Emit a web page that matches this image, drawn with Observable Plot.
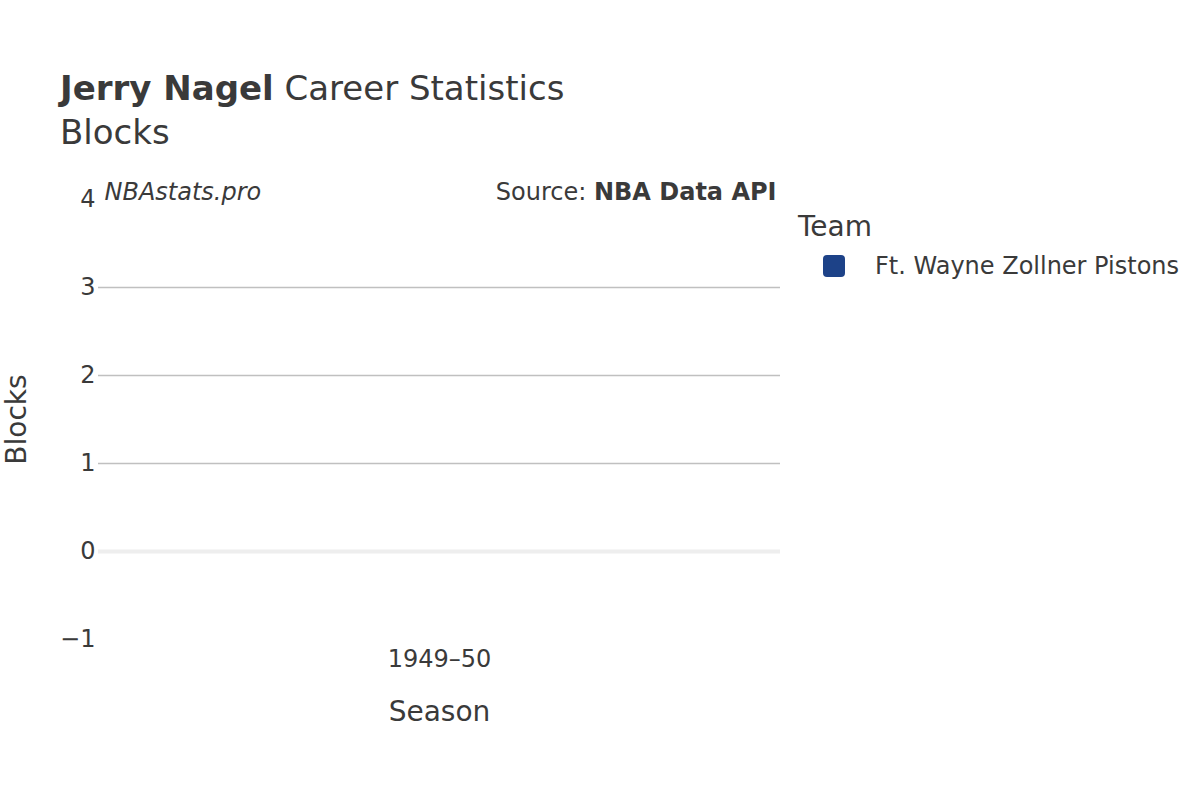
<!DOCTYPE html>
<html>
<head>
<meta charset="utf-8">
<script src="https://cdn.jsdelivr.net/npm/d3@7"></script>
<script src="https://cdn.jsdelivr.net/npm/@observablehq/plot@0.6"></script>
<style>
  html, body { margin: 0; padding: 0; background: #fff; }
  body { font-family: "DejaVu Sans", sans-serif; color: #3a3a3a; }
  #wrap { position: relative; width: 1200px; height: 800px; overflow: hidden; }
  #head { position: relative; height: 165px; }
  .t { position: absolute; left: 60px; white-space: nowrap; font-size: 34px; line-height: 34px; }
  #legend { position: absolute; left: 798px; top: 210px; }
  #legend .lt { font-size: 28px; line-height: 28px; position: absolute; left: 0; top: 3px; white-space: nowrap; }
  #legend .row { position: absolute; left: 25px; top: 45px; white-space: nowrap; }
  #legend .sw { position: absolute; left: 0; top: 0; width: 22px; height: 22px; border-radius: 4px; }
  #legend .lab { position: absolute; left: 52px; top: -1px; font-size: 24px; line-height: 24px; }
</style>
</head>
<body>
<div id="wrap">
  <div id="head">
    <div class="t" style="top:71px"><b>Jerry Nagel</b> Career Statistics</div>
    <div class="t" style="top:115px">Blocks</div>
  </div>
  <div id="chart"></div>
  <div id="legend"></div>
</div>
<script>
// ---- data ----
const seasons = ["1949–50"];
const teams = ["Ft. Wayne Zollner Pistons"];
const blocks = [0];
const teamColors = ["#1d4288"];
const yTicks = [-1, 0, 1, 2, 3, 4];
const gridValues = [1, 2, 3];
const zeroValue = [0];

const rows = seasons.map((s, i) => ({season: s, team: teams[i], blocks: blocks[i]}));
const ink = "#3a3a3a";
const font = "DejaVu Sans, sans-serif";

const chart = Plot.plot({
  width: 1200,
  height: 635,
  marginLeft: 98,
  marginRight: 420,
  marginTop: 34,
  marginBottom: 161,
  style: {fontFamily: font, color: ink, background: "#fff", overflow: "visible"},
  x: {domain: seasons, padding: 0.2, label: null},
  y: {domain: [-1, 4], label: null},
  color: {domain: teams, range: teamColors},
  marks: [
    Plot.ruleY(gridValues, {stroke: "#c0c0c0", strokeWidth: 1.5}),
    Plot.ruleY(zeroValue, {stroke: "#eeeeee", strokeWidth: 4}),
    Plot.barY(rows, {x: "season", y: "blocks", fill: "team"}),
    Plot.axisY({ticks: yTicks, tickSize: 0, tickPadding: 3, tickFormat: d3.format("d"), fontSize: 24, label: null, fill: ink}),
    Plot.axisX({tickSize: 0, tickPadding: 10, fontSize: 24, label: null, fill: ink}),
    Plot.text(["Blocks"], {frameAnchor: "left", dx: -81, rotate: -90, fontSize: 28, fill: ink, textAnchor: "middle"}),
    Plot.text(["Season"], {frameAnchor: "bottom", dy: 73, fontSize: 28, fill: ink, lineAnchor: "middle"}),
    Plot.text(["NBAstats.pro"], {frameAnchor: "top-left", dx: 6, dy: -7, fontSize: 24, fontStyle: "italic", fill: ink, textAnchor: "start", lineAnchor: "middle"}),
    Plot.text(["Source: "], {frameAnchor: "top-right", dx: -4, dy: -7, fontSize: 24, fill: ink, textAnchor: "end", lineAnchor: "middle", className: "src"})
  ]
});
document.getElementById("chart").appendChild(chart);

// add bold part of source annotation
d3.select(chart).selectAll(".src text").each(function() {
  const t = d3.select(this);
  t.text(null);
  t.append("tspan").text("Source: ");
  t.append("tspan").attr("font-weight", "bold").text("NBA Data API");
});

// legend
const lg = d3.select("#legend");
lg.append("div").attr("class", "lt").text("Team");
teams.forEach((name, i) => {
  const r = lg.append("div").attr("class", "row").style("top", (45 + i * 30) + "px");
  r.append("div").attr("class", "sw").style("background", teamColors[i]);
  r.append("div").attr("class", "lab").text(name);
});
</script>
</body>
</html>
